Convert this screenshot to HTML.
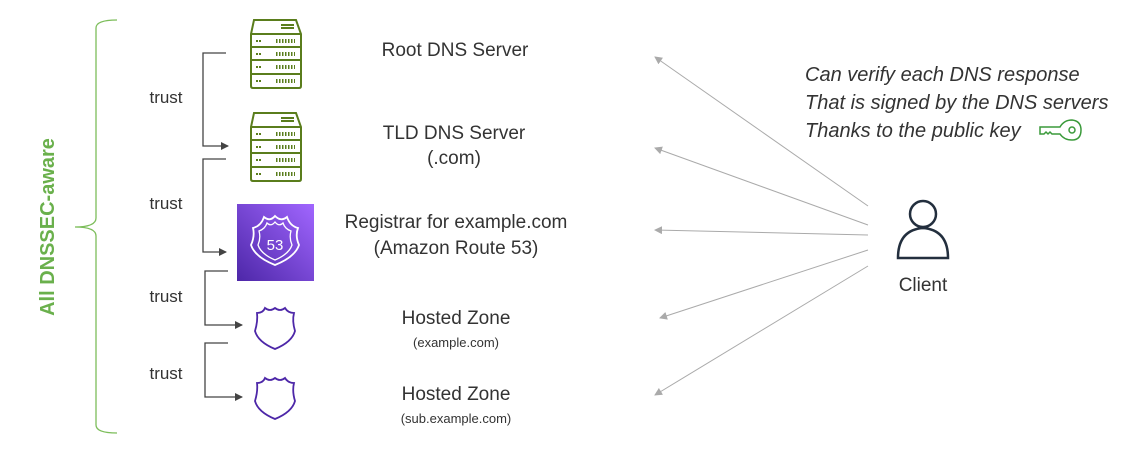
<!DOCTYPE html>
<html><head><style>
body{margin:0;width:1126px;height:460px;background:#fff;font-family:"Liberation Sans",sans-serif;overflow:hidden}
svg{position:absolute;left:0;top:0}
</style></head><body>
<svg width="1126" height="460" viewBox="0 0 1126 460">
<defs><marker id="a" markerWidth="8" markerHeight="8" refX="7" refY="4" orient="auto" markerUnits="userSpaceOnUse"><path d="M0,0 L8,4 L0,8z" fill="#444"/></marker>
<marker id="g" markerWidth="8" markerHeight="8" refX="7" refY="4" orient="auto" markerUnits="userSpaceOnUse"><path d="M0,0 L8,4 L0,8z" fill="#aaa"/></marker></defs>
<path d="M117,20 Q96,20 96,28 L96,218 Q96,227 75,227 Q96,227 96,236 L96,425 Q96,433 117,433" fill="none" stroke="#7cbd5a" stroke-width="1.3"/>
<text transform="translate(54,227) rotate(-90)" text-anchor="middle" font-size="20" font-weight="bold" fill="#6ab04c">All DNSSEC-aware</text>
<g fill="none" stroke="#444" stroke-width="1.3">
<path d="M226,53 H203 V146 H228" marker-end="url(#a)"/>
<path d="M226,159 H203 V252 H226" marker-end="url(#a)"/>
<path d="M228,271 H205 V325 H242" marker-end="url(#a)"/>
<path d="M228,343 H205 V397 H242" marker-end="url(#a)"/>
</g>
<g font-size="17" fill="#333" text-anchor="middle">
<text x="166" y="103">trust</text><text x="166" y="209">trust</text>
<text x="166" y="302">trust</text><text x="166" y="379">trust</text>
</g>
<g fill="none" stroke="#5a7d1c" stroke-width="2">
<g transform="translate(250,20)">
<path d="M4,0 H46 L51,14 V66 Q51,68 49,68 H3 Q1,68 1,66 V14z"/><path d="M1,14H51M1,27H51M1,40H51M1,54H51"/>
<path d="M31,5H44M31,8H44"/>
<path d="M6,21H12M6,34H12M6,47H12M6,61H12" stroke-dasharray="2 1"/>
<path d="M26,21H45M26,34H45M26,47H45M26,61H45" stroke-dasharray="1.5 1.5" stroke-width="4"/>
</g>
<g transform="translate(250,113)">
<path d="M4,0 H46 L51,14 V66 Q51,68 49,68 H3 Q1,68 1,66 V14z"/><path d="M1,14H51M1,27H51M1,40H51M1,54H51"/>
<path d="M31,5H44M31,8H44"/>
<path d="M6,21H12M6,34H12M6,47H12M6,61H12" stroke-dasharray="2 1"/>
<path d="M26,21H45M26,34H45M26,47H45M26,61H45" stroke-dasharray="1.5 1.5" stroke-width="4"/>
</g>
</g>
<defs><linearGradient id="p" x1="0" y1="1" x2="1" y2="0"><stop offset="0" stop-color="#4d27a8"/><stop offset="1" stop-color="#a166ff"/></linearGradient></defs>
<rect x="237" y="204" width="77" height="77" fill="url(#p)"/>
<path d="M253,228 Q261,226 264,217 Q270,222 275,216 Q281,222 287,217 Q290,226 298,228 Q295,236 299,245 Q295,257 275,265 Q255,257 251,245 Q255,236 253,228z" fill="none" stroke="#fff" stroke-width="1.8"/>
<path d="M259,231 Q265,229 267,223 Q271,227 275,222 Q279,227 283,223 Q285,229 291,231 Q289,238 292,245 Q289,254 275,260 Q261,254 258,245 Q261,238 259,231z" fill="none" stroke="#fff" stroke-width="1.3"/>
<text x="275" y="250" text-anchor="middle" font-size="15" fill="#fff">53</text>
<g fill="none" stroke="#4d27a8" stroke-width="1.8">
<path d="M257,313 Q263,313 265,308 Q270,312 275,308 Q280,312 285,308 Q288,313 294,313 Q292,321 295,331 Q292,342 275,349 Q258,342 255,331 Q258,321 257,313z"/>
<path d="M257,383 Q263,383 265,378 Q270,382 275,378 Q280,382 285,378 Q288,383 294,383 Q292,391 295,401 Q292,412 275,419 Q258,412 255,401 Q258,391 257,383z"/>
</g>
<g fill="#333" text-anchor="middle">
<text x="455" y="56" font-size="19">Root DNS Server</text>
<text x="454" y="139" font-size="19">TLD DNS Server</text>
<text x="454" y="164" font-size="19">(.com)</text>
<text x="456" y="228" font-size="19">Registrar for example.com</text>
<text x="456" y="254" font-size="19">(Amazon Route 53)</text>
<text x="456" y="324" font-size="19">Hosted Zone</text>
<text x="456" y="347" font-size="13">(example.com)</text>
<text x="456" y="400" font-size="19">Hosted Zone</text>
<text x="456" y="423" font-size="13">(sub.example.com)</text>
<text x="923" y="291" font-size="19">Client</text>
</g>
<g stroke="#aaa" stroke-width="1" marker-end="url(#g)">
<line x1="868" y1="206" x2="655" y2="57"/>
<line x1="868" y1="225" x2="655" y2="148"/>
<line x1="868" y1="235" x2="655" y2="230"/>
<line x1="868" y1="250" x2="660" y2="318"/>
<line x1="868" y1="266" x2="655" y2="395"/>
</g>
<g fill="none" stroke="#232f3e" stroke-width="2.5">
<circle cx="923" cy="214" r="13"/>
<path d="M898,258 Q898,230 923,228 Q948,230 948,258z"/>
</g>
<g font-size="20" font-style="italic" fill="#333">
<text x="805" y="81">Can verify each DNS response</text>
<text x="805" y="109">That is signed by the DNS servers</text>
<text x="805" y="137">Thanks to the public key</text>
</g>
<g fill="none" stroke="#3a9a3a" stroke-width="1.5">
<path d="M1040,127 H1060 Q1064,120 1072,120 Q1081,121 1081,130 Q1081,140 1072,140 Q1064,140 1060,134 H1052 L1050,132 L1048,134 L1046,132 L1044,134 L1040,134z"/>
<circle cx="1072" cy="130" r="3"/>
</g>
</svg>
</body></html>
